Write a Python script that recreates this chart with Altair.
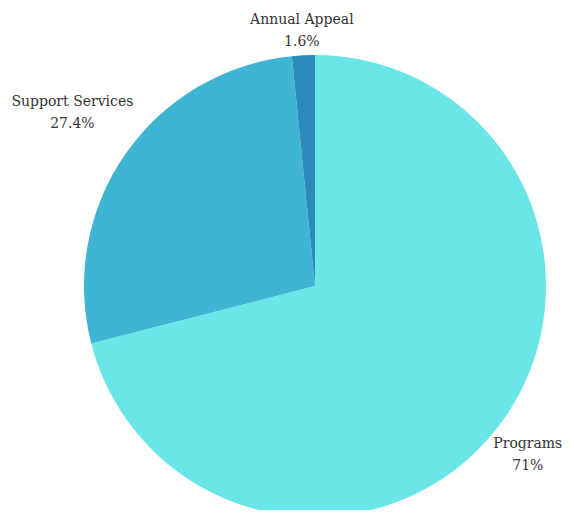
import altair as alt
import pandas as pd

categories = ["Programs", "Support Services", "Annual Appeal"]
shares = [71, 27.4, 1.6]
colors = ["#6AE5E8", "#40B5D3", "#2A8BBA"]

df = pd.DataFrame({"category": categories, "share": shares, "idx": list(range(len(categories)))})

W, H = 558, 502
CX, CY, R = 307, 278, 231

base = alt.Chart(df)

pie = base.mark_arc(radius=R).encode(
    theta=alt.Theta("share:Q", stack=True),
    color=alt.Color("category:N", scale=alt.Scale(domain=categories, range=colors), legend=None),
    order=alt.Order("idx:Q"),
    x=alt.value(CX),
    y=alt.value(CY),
)

labels = (
    base.transform_window(cum="sum(share)", sort=[alt.SortField("idx")], frame=[None, 0])
    .transform_joinaggregate(total="sum(share)")
    .transform_calculate(
        mid="(datum.cum - datum.share/2)/datum.total*2*PI",
        hw="length(datum.category)*3.9",
        lr=f"{R + 9} + abs(sin(datum.mid))*datum.hw + abs(cos(datum.mid))*19",
        lx=f"clamp({CX} + datum.lr*sin(datum.mid), datum.hw + 2, {W} - datum.hw - 7)",
        ly=f"clamp({CY} - datum.lr*cos(datum.mid), 23, {H} - 23)",
        label="datum.category + '\\n' + datum.share + '%'",
    )
    .mark_text(font="DejaVu Serif", fontSize=14, color="#333333",
               lineBreak="\n", lineHeight=22, align="center", baseline="middle", dy=-11)
    .encode(
        x=alt.X("lx:Q", scale=None, axis=None),
        y=alt.Y("ly:Q", scale=None, axis=None),
        text="label:N",
    )
)

chart = (
    alt.layer(pie, labels)
    .properties(width=W, height=H, padding=0, autosize=alt.AutoSizeParams(type="none"))
    .configure_view(stroke=None)
)

chart.save("out.html", embed_options={"renderer": "svg", "actions": False})
